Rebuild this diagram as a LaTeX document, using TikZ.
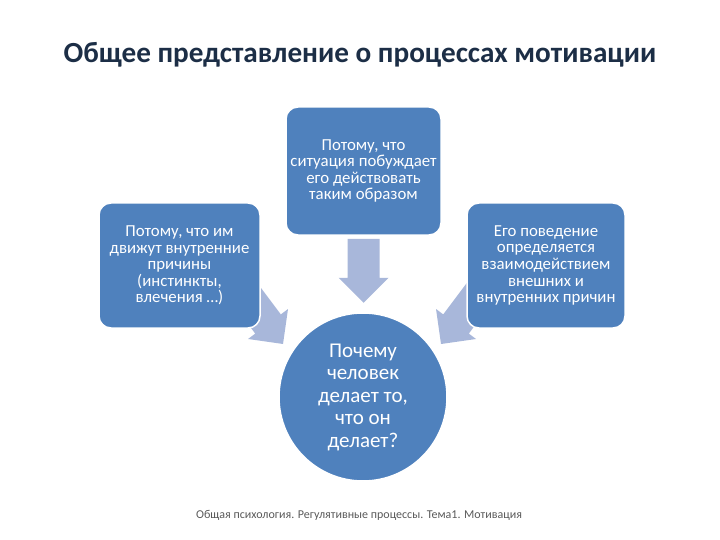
\documentclass[tikz,border=0pt]{standalone}
\usepackage{fontspec}
\setmainfont{Carlito}
\usetikzlibrary{calc}
\definecolor{boxblue}{HTML}{4F81BD}
\definecolor{flowblue}{HTML}{A8B7DA}
\definecolor{titlenavy}{HTML}{1C2E46}
\definecolor{footgray}{HTML}{595959}

\begin{document}
\begin{tikzpicture}[x=1pt,y=-1pt,
  card/.style={draw=white,line width=1.5pt,fill=boxblue,rounded corners=12pt,text=white,
               align=center,inner sep=1pt,font=\fontsize{16.8}{16.6}\selectfont},
  core/.style={circle,draw=white,line width=1.5pt,fill=boxblue,text=white,align=center,
               minimum size=168pt,inner sep=0pt,font=\fontsize{21}{22.5}\selectfont},
  flow/.pic={\fill[flowblue] (0,-16) -- (39,-16) -- (39,-25) -- (64,0) -- (39,25) -- (39,16) -- (0,16) -- cycle;}]
\useasboundingbox (0,0) rectangle (720,540);
\node[font=\bfseries\fontsize{29.2}{32}\selectfont,text=titlenavy] (title) at (360,55) {Общее представление о процессах мотивации};
\coordinate (tipL) at (283,344);
\coordinate (tipR) at (441,344);
\node[card,minimum width=155pt,minimum height=128pt] (situation) at (363.5,171) {Потому, что\\ситуация побуждает\\его действовать\\таким образом};
\pic[rotate=-90] at ($(situation.south)+(0,3)$) {flow};
\pic[rotate=-53.13] at ($(tipL)+(-38.4,-51.2)$) {flow};
\pic[rotate=-126.87] at ($(tipR)+(38.4,-51.2)$) {flow};
\node[card,minimum width=161pt,minimum height=125pt] (inner) at (179.5,265.5) {Потому, что им\\движут внутренние\\причины\\(инстинкты,\\влечения \dots)};
\node[card,minimum width=158pt,minimum height=125pt] (mutual) at (546,265.5) {Его поведение\\определяется\\взаимодействием\\внешних и\\внутренних причин};
\node[core] (why) at (363,397) {Почему\\человек\\делает то,\\что он\\делает?};
\node[font=\fontsize{12}{14}\selectfont,text=footgray] (foot) at (359,515) {Общая психология. Регулятивные процессы. Тема1. Мотивация};
\end{tikzpicture}
\end{document}
